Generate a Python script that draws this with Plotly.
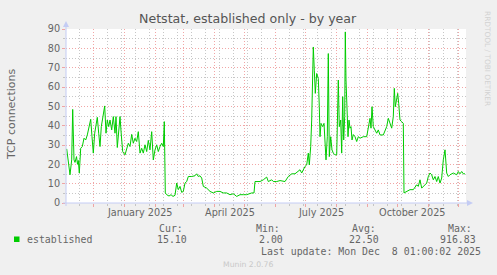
import plotly.graph_objects as go
import pandas as pd

# ---------------- data ----------------
START = pd.Timestamp("2024-11-03 01:00")
END = pd.Timestamp("2025-12-08 01:00")

# days since START
day_offsets = [
    0.7, 2.3, 4.0, 5.7, 6.7, 8.0, 9.0, 10.5, 11.5, 12.3, 13.3, 14.7, 16.3, 18.0, 19.7,
    21.3, 23.0, 24.7, 26.0, 27.3, 28.7, 30.0, 31.3, 32.7, 34.0, 35.3, 37.3, 38.7, 40.0,
    41.3, 42.7, 44.0, 45.7, 47.3, 49.0, 50.0, 51.3, 52.7, 54.0, 55.3, 56.7, 59.0, 60.7,
    62.3, 64.0, 65.7, 67.3, 69.0, 70.7, 72.3, 74.0, 75.7, 77.3, 79.0, 80.7, 82.3, 84.0,
    85.7, 87.3, 89.0, 90.7, 92.3, 94.0, 95.7, 97.3, 98.3, 99.3, 100.7, 103.0, 105.0,
    107.0, 109.0, 110.7, 112.3, 114.0, 115.7, 117.3, 119.0, 120.7, 122.3, 125.7, 129.0,
    130.7, 132.3, 134.0, 135.7, 137.3, 140.7, 144.0, 147.3, 150.7, 154.0, 157.3, 160.7,
    164.0, 167.3, 170.7, 174.0, 177.3, 180.7, 185.7, 188.0, 189.0, 194.0, 197.3, 200.7,
    202.3, 205.7, 207.3, 210.7, 214.0, 219.0, 222.3, 225.7, 229.0, 232.3, 234.0, 235.7,
    237.3, 239.0, 240.7, 242.3, 243.3, 244.7, 245.7, 246.7, 247.3, 248.3, 249.3, 250.7,
    252.3, 253.3, 254.0, 255.0, 256.7, 258.0, 259.0, 260.0, 261.3, 262.3, 263.3, 264.7,
    266.0, 267.3, 269.0, 270.7, 272.3, 273.3, 274.7, 275.7, 276.7, 277.7, 278.7, 279.3,
    280.0, 281.0, 282.0, 283.0, 284.0, 285.0, 286.0, 287.3, 289.0, 290.7, 292.3, 294.0,
    297.3, 300.7, 302.3, 304.0, 305.0, 306.0, 307.3, 309.0, 310.7, 312.3, 314.0, 317.3,
    320.7, 322.3, 324.0, 325.7, 327.3, 328.3, 329.3, 330.7, 331.7, 332.7, 334.0, 335.7,
    337.3, 338.0, 340.7, 344.0, 347.3, 350.7, 352.3, 354.0, 355.7, 357.3, 359.0, 360.7,
    362.3, 364.0, 365.7, 367.3, 369.0, 370.7, 372.3, 374.0, 375.7, 377.3, 379.0, 380.7,
    382.3, 384.0, 387.3, 390.7, 392.3, 394.0, 395.7, 397.3, 399.0,
]

established = [
    28.0, 22.3, 14.6, 22.3, 48.4, 22.3, 21.0, 24.0, 20.0, 22.0, 15.5, 28.3, 29.2, 33.5, 32.6,
    35.2, 39.5, 43.3, 34.3, 25.8, 36.1, 41.2, 44.3, 36.1, 29.2, 39.5, 44.7, 50.2, 36.1,
    42.9, 39.5, 42.9, 37.8, 44.7, 36.1, 44.7, 28.7, 35.2, 44.7, 35.2, 26.6, 24.9, 28.3,
    30.9, 29.2, 35.5, 30.9, 33.5, 31.8, 36.9, 25.8, 28.3, 25.8, 30.1, 26.6, 32.4, 27.5,
    36.9, 22.3, 27.5, 30.1, 26.6, 29.2, 30.9, 29.2, 42.1, 5.2, 4.3, 3.6, 4.3,
    3.4, 4.0, 10.3, 6.9, 8.6, 5.5, 6.0, 10.3, 11.1, 13.7, 13.7, 14.1,
    15.1, 13.7, 14.1, 12.9, 8.6, 7.7, 6.0, 5.2, 6.0, 6.0, 5.2, 5.2,
    4.3, 4.8, 3.4, 4.3, 4.3, 4.3, 5.2, 5.2, 11.1, 11.1, 12.0, 13.4,
    11.1, 12.0, 11.1, 11.1, 11.6, 11.1, 13.7, 15.1, 15.1, 16.3, 17.2, 15.5,
    17.2, 18.9, 19.7, 25.8, 19.7, 29.2, 42.9, 68.7, 80.7, 68.7, 56.7, 67.0,
    64.4, 49.8, 34.3, 41.2, 39.5, 41.2, 34.3, 22.3, 34.3, 77.3, 24.0, 34.3,
    27.5, 25.8, 24.9, 24.9, 63.6, 39.5, 42.9, 25.8, 55.0, 32.6, 44.7, 88.5,
    63.6, 41.2, 34.3, 42.9, 38.7, 39.5, 32.6, 35.4, 34.3, 31.8, 34.3, 33.5,
    34.3, 34.3, 38.7, 43.8, 38.7, 49.8, 39.5, 37.8, 36.1, 37.8, 35.2, 35.2,
    39.5, 43.8, 41.2, 38.7, 44.7, 59.3, 49.8, 53.3, 56.7, 51.5, 42.9, 42.1,
    41.2, 5.2, 6.0, 6.9, 6.9, 9.4, 8.6, 12.0, 7.7, 8.6, 9.4, 10.3,
    13.7, 15.5, 14.6, 12.0, 13.7, 11.1, 13.7, 10.3, 12.9, 22.3, 27.5, 15.5,
    13.7, 14.6, 15.5, 14.6, 16.3, 15.1, 16.3, 15.1, 15.1,
]

month_labels = ["January 2025", "April 2025", "July 2025", "October 2025"]
month_label_dates = ["2025-01-16", "2025-04-16", "2025-07-16", "2025-10-16"]

series_name = "established"
stat_names = ["Cur:", "Min:", "Avg:", "Max:"]
stat_values = ["15.10", "2.00", "22.50", "916.83"]

title_text = "Netstat, established only - by year"
ylabel_text = "TCP connections"
last_update = "Last update: Mon Dec \u00a08 01:00:02 2025"
footer_text = "Munin 2.0.76"
watermark = "RRDTOOL / TOBI OETIKER"

# ---------------- styling ----------------
W, H = 497, 275
L, R, T, B = 66, 466, 29, 203
FONT = "DejaVu Sans"
MONO = "DejaVu Sans Mono"
FC = "#666666"
GREEN = "#00CC00"
AXISC = "#C4CCF4"
MGRID = "rgba(238,150,150,0.85)"
GRID = "rgba(185,185,185,0.8)"


def px(x):
    return (x - L) / (R - L)


def py(y):
    return (B - y) / (B - T)


dates = [START + pd.Timedelta(days=d) for d in day_offsets]

fig = go.Figure()
fig.add_trace(go.Scatter(x=dates, y=established, mode="lines",
                         line=dict(color=GREEN, width=1), showlegend=False,
                         hoverinfo="skip"))

fig.update_layout(
    template="none",
    width=W, height=H,
    margin=dict(l=L, r=W - R, t=T, b=H - B, pad=0),
    paper_bgcolor="#F0F0F0",
    plot_bgcolor="#FFFFFF",
    showlegend=False,
    font=dict(family=FONT, color=FC, size=10),
)

fig.update_xaxes(
    type="date", range=[START, END], automargin=False,
    showticklabels=False, showline=False, zeroline=False,
    tick0="2024-12-01", dtick="M1",
    showgrid=True, gridcolor=MGRID, griddash="1px,2px", gridwidth=1,
    ticks="outside", ticklen=3, tickcolor=MGRID, tickwidth=1,
    minor=dict(tick0="2024-11-17", dtick=14 * 86400000, showgrid=True,
               gridcolor=GRID, griddash="1px,2px", gridwidth=1,
               ticks="outside", ticklen=2, tickcolor=GRID),
)
fig.update_yaxes(
    range=[0, 90], automargin=False, zeroline=False, showline=False,
    tick0=0, dtick=10, showgrid=True, gridcolor=MGRID, griddash="1px,2px",
    ticks="outside", ticklen=3, tickcolor=MGRID,
    tickfont=dict(family=FONT, size=9.7, color=FC),
    minor=dict(dtick=5, showgrid=True, gridcolor=GRID, griddash="1px,2px",
               ticks="outside", ticklen=2, tickcolor=GRID),
)

shapes = []
# axis lines
shapes.append(dict(type="line", xref="paper", yref="paper",
                   x0=px(63), x1=px(468), y0=0, y1=0,
                   line=dict(color=AXISC, width=1)))
shapes.append(dict(type="line", xref="paper", yref="paper",
                   x0=0, x1=0, y0=py(206), y1=py(26),
                   line=dict(color=AXISC, width=1)))
# arrows
shapes.append(dict(type="path", xref="paper", yref="paper",
                   path=f"M {px(467)},{py(200)} L {px(473)},{py(203)} L {px(467)},{py(206)} Z",
                   fillcolor=AXISC, line=dict(color=AXISC, width=0)))
shapes.append(dict(type="path", xref="paper", yref="paper",
                   path=f"M {px(63)},{py(27)} L {px(66)},{py(21)} L {px(69)},{py(27)} Z",
                   fillcolor=AXISC, line=dict(color=AXISC, width=0)))
# legend swatch
shapes.append(dict(type="rect", xref="paper", yref="paper",
                   x0=px(14), x1=px(19.5), y0=py(242), y1=py(236.5),
                   fillcolor=GREEN, line=dict(color=GREEN, width=0)))
fig.update_layout(shapes=shapes)

ann = []


def text(x, y, s, size, family=FONT, color=FC, xanchor="left", angle=0):
    ann.append(dict(xref="paper", yref="paper", x=px(x), y=py(y), text=s,
                    showarrow=False, xanchor=xanchor, yanchor="middle",
                    textangle=angle, borderpad=0,
                    font=dict(family=family, size=size, color=color)))


text(248, 18.5, title_text, 12.6, color="#555555", xanchor="center")
text(12, 115, ylabel_text, 11, xanchor="center", angle=-90)
text(487, 58, watermark, 7.4, color="#D2D2D2", xanchor="center", angle=90)

for lab, d in zip(month_labels, month_label_dates):
    ann.append(dict(xref="x", yref="paper", x=d, y=py(212), text=lab,
                    showarrow=False, xanchor="center", yanchor="middle",
                    font=dict(family=FONT, size=9.7, color=FC)))

text(26, 239.5, series_name, 9.9, family=MONO)
stat_name_x = [158, 255, 351, 447]
stat_val_right = [188, 284, 380, 477]
for nm, nx, val, vr in zip(stat_names, stat_name_x, stat_values, stat_val_right):
    text(nx, 228, nm, 9.9, family=MONO)
    text(vr, 239.5, val, 9.9, family=MONO, xanchor="right")
text(482, 251.5, last_update, 9.9, family=MONO, xanchor="right")
text(248, 264, footer_text, 7.7, color="#C8C8C8", xanchor="center")

fig.update_layout(annotations=ann)

fig.write_html("out.html", config={"displayModeBar": False})
